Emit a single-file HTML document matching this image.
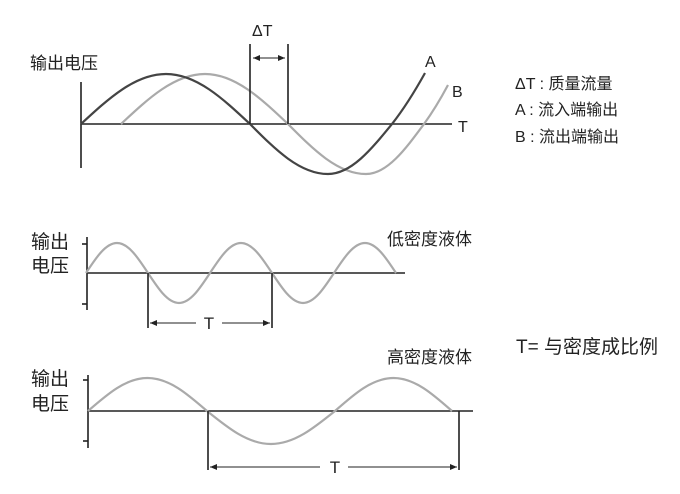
<!DOCTYPE html>
<html><head><meta charset="utf-8"><style>
html,body{margin:0;padding:0;background:#fff}
svg{display:block}
text{font-family:"Liberation Sans","Noto Sans CJK SC",sans-serif;fill:#222}
</style></head><body>
<svg width="680" height="494" viewBox="0 0 680 494" xmlns="http://www.w3.org/2000/svg">
<defs>
<marker id="ar" markerWidth="8" markerHeight="8" refX="7" refY="4" orient="auto-start-reverse" markerUnits="userSpaceOnUse">
<path d="M0,1 L7,4 L0,7 Z" fill="#222"/></marker>
</defs>
<!-- top chart -->
<text x="30" y="69" font-size="17">输出电压</text>
<line x1="81" y1="82" x2="81" y2="168" stroke="#222" stroke-width="1.6"/>
<line x1="81" y1="124" x2="452" y2="124" stroke="#222" stroke-width="1.6"/>
<path d="M121,124 C148.4,98.4 174.5,74 205,74 C235.1,74 260.9,98.4 288,124 C313.4,149.6 337.7,174 366,174 C387.1,174 405.1,149.6 424,124 C432,113 440,100 448,85" fill="none" stroke="#aaa" stroke-width="2.2"/>
<path d="M81,124 C108.7,98.4 135.1,74 166,74 C196.5,74 222.6,98.4 250,124 C275.4,149.6 299.7,174 328,174 C351.2,174 371.1,149.6 392,124 C403,110 415,91 425,73" fill="none" stroke="#444" stroke-width="2.2"/>
<line x1="250" y1="44" x2="250" y2="124" stroke="#222" stroke-width="1.6"/>
<line x1="288" y1="44" x2="288" y2="124" stroke="#222" stroke-width="1.6"/>
<line x1="253" y1="58" x2="285" y2="58" stroke="#222" stroke-width="1" marker-start="url(#ar)" marker-end="url(#ar)"/>
<text x="252" y="36" font-size="16">ΔT</text>
<text x="425" y="67" font-size="16">A</text>
<text x="452" y="97" font-size="16">B</text>
<text x="458" y="132" font-size="16">T</text>
<text x="515" y="89" font-size="16">ΔT : 质量流量</text>
<text x="515" y="115" font-size="16">A : 流入端输出</text>
<text x="515" y="142" font-size="16">B : 流出端输出</text>
<!-- middle -->
<text x="31" y="248" font-size="19">输出</text>
<text x="31" y="272" font-size="19">电压</text>
<line x1="87" y1="237" x2="87" y2="310" stroke="#222" stroke-width="1.6"/>
<line x1="82" y1="244" x2="87" y2="244" stroke="#222" stroke-width="1.6"/>
<line x1="82" y1="304" x2="87" y2="304" stroke="#222" stroke-width="1.6"/>
<line x1="86" y1="273" x2="405" y2="273" stroke="#222" stroke-width="1.6"/>
<path d="M86,273 c10.1,-15.4 19.7,-30 31,-30 c11.3,0 20.9,14.6 31,30 c10.1,15.4 19.7,30 31,30 c11.3,0 20.9,-14.6 31,-30 c10.1,-15.4 19.7,-30 31,-30 c11.3,0 20.9,14.6 31,30 c10.1,15.4 19.7,30 31,30 c11.3,0 20.9,-14.6 31,-30 c10.1,-15.4 19.7,-30 31,-30 c11.3,0 20.9,14.6 31,30" fill="none" stroke="#aaa" stroke-width="2.2"/>
<line x1="148" y1="273" x2="148" y2="328" stroke="#222" stroke-width="1.6"/>
<line x1="272" y1="273" x2="272" y2="328" stroke="#222" stroke-width="1.6"/>
<line x1="150" y1="323" x2="196" y2="323" stroke="#222" stroke-width="1" marker-start="url(#ar)"/>
<line x1="222" y1="323" x2="270" y2="323" stroke="#222" stroke-width="1" marker-end="url(#ar)"/>
<text x="209" y="329" font-size="17" text-anchor="middle">T</text>
<text x="387" y="245" font-size="17">低密度液体</text>
<text x="516" y="353" font-size="19">T= 与密度成比例</text>
<!-- bottom -->
<text x="31" y="385" font-size="19">输出</text>
<text x="31" y="410" font-size="19">电压</text>
<line x1="88" y1="375" x2="88" y2="448" stroke="#222" stroke-width="1.6"/>
<line x1="83" y1="380" x2="88" y2="380" stroke="#222" stroke-width="1.6"/>
<line x1="83" y1="441" x2="88" y2="441" stroke="#222" stroke-width="1.6"/>
<line x1="88" y1="411" x2="473" y2="411" stroke="#222" stroke-width="1.6"/>
<path d="M88,411 c19.4,-16.9 37.9,-33 59.5,-33 c21.6,0 40.1,16.1 59.5,33 c20.9,16.9 40.8,33 64,33 c23.2,0 43.1,-16.1 64,-33 c19.1,-16.9 37.3,-33 58.5,-33 c21.2,0 39.4,16.1 58.5,33" fill="none" stroke="#aaa" stroke-width="2.2"/>
<line x1="208" y1="411" x2="208" y2="470" stroke="#222" stroke-width="1.6"/>
<line x1="459" y1="411" x2="459" y2="470" stroke="#222" stroke-width="1.6"/>
<line x1="210" y1="467" x2="320" y2="467" stroke="#222" stroke-width="1" marker-start="url(#ar)"/>
<line x1="348" y1="467" x2="457" y2="467" stroke="#222" stroke-width="1" marker-end="url(#ar)"/>
<text x="335" y="473" font-size="17" text-anchor="middle">T</text>
<text x="387" y="363" font-size="17">高密度液体</text>
</svg>
</body></html>
